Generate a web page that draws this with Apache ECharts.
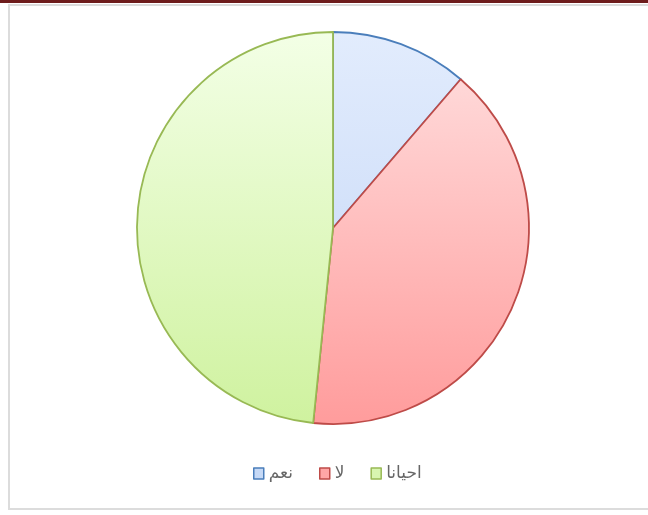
<!DOCTYPE html>
<html>
<head>
<meta charset="utf-8">
<script src="https://cdn.jsdelivr.net/npm/echarts@6/dist/echarts.min.js"></script>
<style>
  html, body { margin: 0; padding: 0; background: #ffffff; }
  #chart { width: 648px; height: 515px; }
</style>
</head>
<body>
<div id="chart"></div>
<script>
// Survey answers: yes / no / sometimes
const categories = ['نعم', 'لا', 'احيانا'];
const counts = [7, 25, 30];

// Fill gradients (top -> bottom) and outline colour per answer
const fillTop = ['#e2ecfd', '#ffe0e0', '#f3ffe6'];
const fillBottom = ['#c2d5f6', '#ff9c9c', '#cff29f'];
const legendFill = ['#c6d9f6', '#ffa6a6', '#d8f5b0'];
const edgeColors = ['#4a7ebb', '#be4b48', '#98b954'];

const cx = 333, cy = 228, r = 196;

function grad(i) {
  return new echarts.graphic.LinearGradient(0, cy - r, 0, cy + r, [
    { offset: 0, color: fillTop[i] },
    { offset: 1, color: fillBottom[i] }
  ], true);
}

const chart = echarts.init(document.getElementById('chart'), null, { renderer: 'canvas' });

chart.setOption({
  animation: false,
  backgroundColor: '#ffffff',
  graphic: [
    { type: 'rect', z: -10, shape: { x: 0, y: 0, width: 648, height: 3 }, style: { fill: '#6e1c1c' } },
    { type: 'rect', z: -10, shape: { x: 9, y: 5, width: 700, height: 504 },
      style: { fill: '#ffffff', stroke: '#dcdcdc', lineWidth: 2 } }
  ],
  legend: {
    data: categories.map((name, i) => ({
      name,
      itemStyle: { color: legendFill[i], borderColor: edgeColors[i], borderWidth: 1.5 }
    })),
    left: 248,
    top: 460,
    itemWidth: 10,
    itemHeight: 11,
    itemGap: 26,
    icon: 'rect',
    textStyle: { color: '#666666', fontSize: 17, fontFamily: 'DejaVu Sans, Arial, sans-serif' }
  },
  series: [{
    type: 'pie',
    center: [cx, cy],
    radius: r,
    startAngle: 90,
    clockwise: true,
    label: { show: false },
    labelLine: { show: false },
    emphasis: { disabled: true },
    data: categories.map((name, i) => ({
      name,
      value: counts[i],
      itemStyle: { color: grad(i), borderColor: edgeColors[i], borderWidth: 1.8 }
    }))
  }]
});
</script>
</body>
</html>
